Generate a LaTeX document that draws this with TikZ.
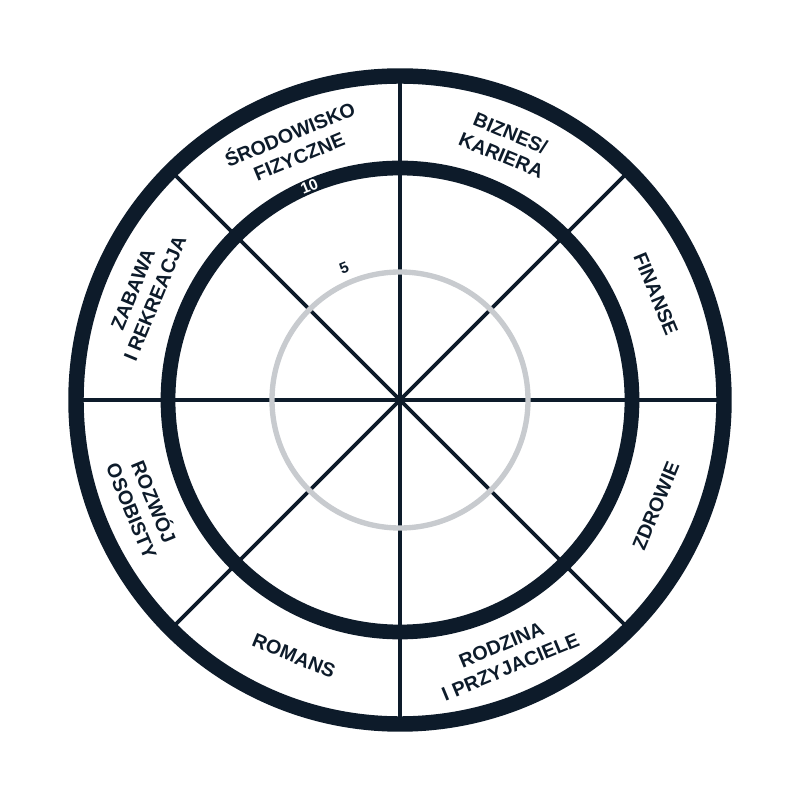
\documentclass[tikz,border=0pt]{standalone}
\usepackage{fontspec}
\setmainfont{Liberation Sans}
\definecolor{navy}{HTML}{0D1B2A}
\definecolor{scalegrey}{HTML}{C8CBCF}
\tikzset{
	area/.style={font=\bfseries\fontsize{14}{17}\selectfont, text=navy, align=center, inner sep=1pt},
	mark label/.style={font=\bfseries\fontsize{11}{13}\selectfont, inner sep=1pt}
}
\begin{document}
\begin{tikzpicture}[x=0.025cm, y=0.025cm]
	\useasboundingbox (-400,-400) rectangle (400,400);
	\coordinate (c) at (0,0);
	% spokes
	\foreach \a in {0,45,90,135}
		\draw[navy, line width=2.6pt] (\a:322) -- (\a+180:322);
	% rings
	\draw[scalegrey, line width=3.8pt] (c) circle (128);
	\draw[navy, line width=10.5pt] (c) circle (232);
	\draw[navy, line width=11pt] (c) circle (324);
	% areas
	\node[area, rotate=-22.5] (biz) at (67.5:277) {BIZNES/\\KARIERA};
	\node[area, rotate=-67.5] (fin) at (22.5:277) {FINANSE};
	\node[area, rotate=67.5] (zdr) at (-22.5:277) {ZDROWIE};
	\node[area, rotate=22.5] (rodz) at (-67.5:277) {RODZINA\\I PRZYJACIELE};
	\node[area, rotate=-22.5] (rom) at (-112.5:277) {ROMANS};
	\node[area, rotate=-67.5] (rozw) at (-157.5:277) {ROZWÓJ\\OSOBISTY};
	\node[area, rotate=67.5] (zab) at (157.5:277) {ZABAWA\\I REKREACJA};
	\node[area, rotate=22.5] (srod) at (112.5:277) {ŚRODOWISKO\\FIZYCZNE};
	% scale marks
	\node[mark label, text=white, rotate=22.5] (ten) at (113:232) {10};
	\node[mark label, text=navy, rotate=22.5] (five) at (113:143) {5};
\end{tikzpicture}
\end{document}
